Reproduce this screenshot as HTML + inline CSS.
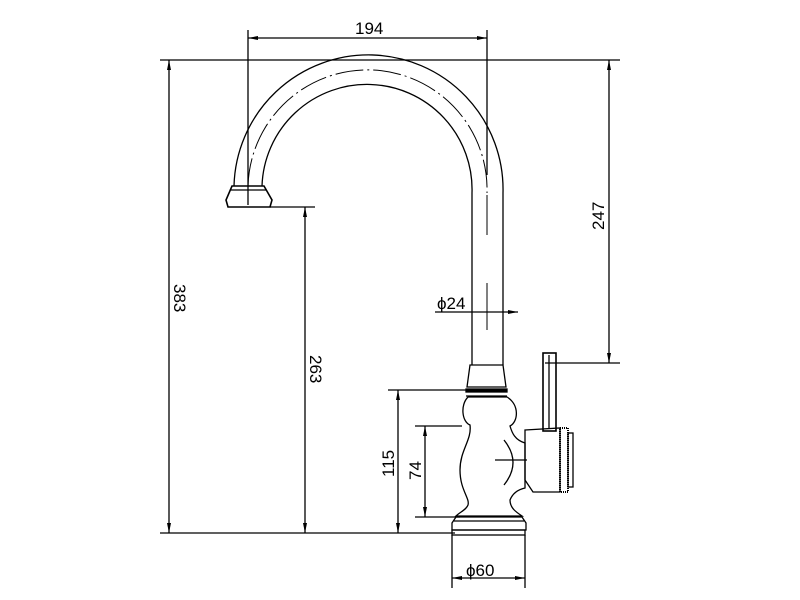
<!DOCTYPE html><html><head><style>body{margin:0;background:#fff}svg{display:block}text{font-family:"Liberation Sans Narrow","Liberation Sans",sans-serif;font-size:17px;font-weight:normal;fill:#000;stroke:none}</style></head><body>
<svg width="800" height="600" viewBox="0 0 800 600" fill="none" stroke="#000" stroke-width="1.3">
<defs><marker id="a" viewBox="0 0 10 4" refX="10" refY="2" markerWidth="10" markerHeight="4" orient="auto-start-reverse" markerUnits="userSpaceOnUse"><path d="M0,0L10,2L0,4z" fill="#000" stroke="none"/></marker></defs>
<line x1="160" y1="60" x2="620" y2="60"/>
<line x1="160" y1="533" x2="455" y2="533"/>
<line x1="248" y1="30" x2="248" y2="205"/>
<line x1="487" y1="30" x2="487" y2="175"/>
<line x1="270" y1="207" x2="315" y2="207"/>
<line x1="545" y1="363" x2="620" y2="363"/>
<line x1="388" y1="390" x2="470" y2="390"/>
<line x1="415" y1="426" x2="462" y2="426"/>
<line x1="415" y1="517" x2="460" y2="517"/>
<line x1="452" y1="535" x2="452" y2="588"/>
<line x1="525" y1="535" x2="525" y2="588"/>
<line x1="248" y1="38" x2="487" y2="38" marker-start="url(#a)" marker-end="url(#a)"/>
<line x1="169" y1="60" x2="169" y2="533" marker-start="url(#a)" marker-end="url(#a)"/>
<line x1="305" y1="207" x2="305" y2="533" marker-start="url(#a)" marker-end="url(#a)"/>
<line x1="609" y1="60" x2="609" y2="363" marker-start="url(#a)" marker-end="url(#a)"/>
<line x1="398" y1="390" x2="398" y2="533" marker-start="url(#a)" marker-end="url(#a)"/>
<line x1="425" y1="426" x2="425" y2="517" marker-start="url(#a)" marker-end="url(#a)"/>
<line x1="452" y1="578" x2="525" y2="578" marker-start="url(#a)" marker-end="url(#a)"/>
<line x1="435" y1="312" x2="468" y2="312"/>
<line x1="468" y1="312" x2="518" y2="312" marker-end="url(#a)"/>
<path d="M234,186 A134,134 0 1 1 503,193 L503,365"/>
<path d="M262,186 A105,105 0 1 1 472,193 L472,365"/>
<path d="M248,186 A119,119 0 1 1 487,193" stroke-dasharray="28,4,2,4" stroke-width="1"/>
<line x1="487" y1="195" x2="487" y2="235" stroke-width="1"/>
<line x1="487" y1="283" x2="487" y2="330" stroke-width="1"/>
<path d="M232,186 L264,186 L272,200 L270,207 L228,207 L226,200 Z" stroke-width="1.6"/>
<line x1="230" y1="190" x2="266" y2="190"/>
<path d="M470,365 L503,365 L506,387 L467,387 Z"/>
<rect x="466" y="389" width="41" height="3" fill="#000"/>
<line x1="466" y1="396" x2="507" y2="396"/>
<path d="M468,397 C460,405 462,422 470,425 C472,440 460,450 460,470 C460,490 470,498 468,505 C466,510 460,512 456,516 L522,516 C516,512 510,508 510,500 C512,495 516,490 525,488 L525,443 C515,440 512,433 510,426 C518,422 520,405 507,397 Z"/>
<path d="M504,440 C516,455 516,470 504,485" />
<line x1="495" y1="460" x2="527" y2="460"/>
<path d="M456,517 L522,517 L526,523 L526,530 L452,530 L452,523 Z"/>
<line x1="454" y1="521" x2="524" y2="521"/>
<rect x="452" y="530" width="73" height="5"/>
<rect x="543" y="353" width="13" height="78" stroke-width="1.6"/>
<line x1="549" y1="355" x2="549" y2="429"/>
<path d="M525,430 L560,428 L560,492 L533,492 L525,480 Z"/>
<rect x="560" y="428" width="8" height="64" stroke-width="2" stroke-dasharray="1,1"/>
<rect x="568" y="433" width="5" height="54"/>
<text x="355" y="34">194</text>
<text transform="translate(174,284) rotate(90)">383</text>
<text transform="translate(310,355) rotate(90)">263</text>
<text transform="translate(604,230) rotate(-90)">247</text>
<text transform="translate(394,477) rotate(-90)">115</text>
<text transform="translate(421,480) rotate(-90)">74</text>
<text x="437" y="309">ϕ24</text>
<text x="466" y="576">ϕ60</text>
</svg></body></html>
